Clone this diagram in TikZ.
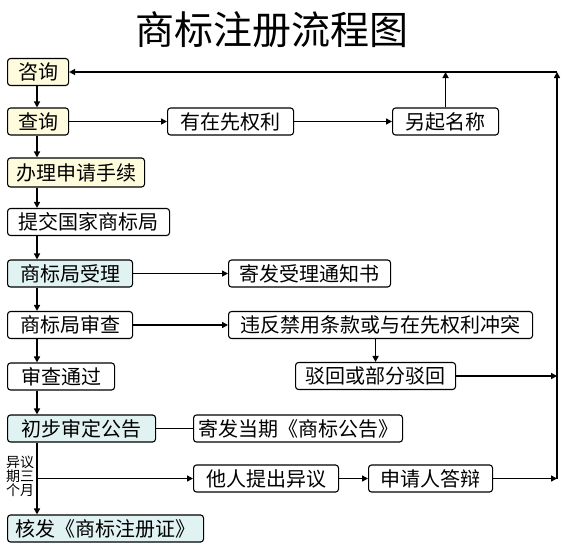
\documentclass[tikz,border=0pt]{standalone}
\usepackage{fontspec}
\setmainfont{Noto Sans CJK SC}
\usetikzlibrary{arrows.meta}
\definecolor{cream}{RGB}{255,252,222}
\definecolor{paleblue}{RGB}{224,242,242}
\tikzset{
  flowbox/.style={
    draw,
    line width=1.1pt,
    rounded corners=3pt,
    anchor=west,
    minimum height=27pt,
    inner sep=0pt,
    font=\fontsize{20}{20}\selectfont
  },
  askbox/.style={flowbox, fill=cream},
  officebox/.style={flowbox, fill=paleblue},
  link/.style={line width=1.5pt, -{Triangle[length=6pt,width=6pt]}},
  plainlink/.style={line width=1.5pt}
}

\begin{document}
\begin{tikzpicture}[x=1pt,y=-1pt]
  \useasboundingbox (0,0) rectangle (567,547);

  \node[font=\fontsize{39}{39}\selectfont] (title) at (272,30) {商标注册流程图};

  \coordinate (spine) at (37,0);
  \coordinate (rtop) at (557,72);

  \node[askbox, minimum width=61pt] (zixun) at (7,72) {咨询};
  \node[askbox, minimum width=61pt] (chaxun) at (7,121.5) {查询};
  \node[askbox, minimum width=137pt, minimum height=29pt] (banli) at (7,172.5) {办理申请手续};
  \node[flowbox, minimum width=162pt] (tijiao) at (7,222) {提交国家商标局};
  \node[officebox, minimum width=125pt] (shouli) at (7,273.5) {商标局受理};
  \node[flowbox, minimum width=125pt] (shencha) at (7,325) {商标局审查};
  \node[flowbox, minimum width=107pt] (tongguo) at (7,376.5) {审查通过};
  \node[officebox, minimum width=148pt] (gonggao) at (7,428.5) {初步审定公告};
  \node[officebox, minimum width=196pt] (hefa) at (7,528.5) {核发《商标注册证》};

  \node[flowbox, minimum width=126pt] (xianquan) at (167,121.5) {有在先权利};
  \node[flowbox, minimum width=106pt] (lingqi) at (392,121.5) {另起名称};
  \node[flowbox, minimum width=162pt] (tongzhi) at (228,273.5) {寄发受理通知书};
  \node[flowbox, minimum width=304pt] (weifan) at (228,325) {违反禁用条款或与在先权利冲突};
  \node[flowbox, minimum width=160pt] (bohui) at (295,376) {驳回或部分驳回};
  \node[flowbox, minimum width=209pt] (jifa) at (193,428.5) {寄发当期《商标公告》};
  \node[flowbox, minimum width=145pt] (yiyi) at (193,478.5) {他人提出异议};
  \node[flowbox, minimum width=124pt] (dabian) at (368,478.5) {申请人答辩};

  \node[align=center, inner sep=0pt, font=\fontsize{14}{14}\selectfont] (qixian) at (20,476) {异议\\期三\\个月};
  \coordinate (fork) at (37,478.5);

  \draw[link] (zixun.south -| spine) -- (chaxun.north -| spine);
  \draw[link] (chaxun.south -| spine) -- (banli.north -| spine);
  \draw[link] (banli.south -| spine) -- (tijiao.north -| spine);
  \draw[link] (tijiao.south -| spine) -- (shouli.north -| spine);
  \draw[link] (shouli.south -| spine) -- (shencha.north -| spine);
  \draw[link] (shencha.south -| spine) -- (tongguo.north -| spine);
  \draw[link] (tongguo.south -| spine) -- (gonggao.north -| spine);
  \draw[link] (gonggao.south -| spine) -- (hefa.north -| spine);
  \draw[link] (fork) -- (yiyi.west);

  \draw[link] (chaxun) -- (xianquan);
  \draw[link] (xianquan) -- (lingqi);
  \draw[link] (lingqi.north) -- (lingqi.north |- rtop);
  \draw[link] (shouli) -- (tongzhi);
  \draw[link] (shencha) -- (weifan);
  \draw[link] (weifan.south -| bohui.north) -- (bohui.north);
  \draw[plainlink] (gonggao) -- (jifa);
  \draw[link] (yiyi) -- (dabian);

  \draw[link] (bohui.east) -- (bohui.east -| rtop);
  \draw[link] (dabian.east) -- (dabian.east -| rtop);
  \draw[link] (dabian.east -| rtop) -- (rtop);
  \draw[link] (rtop) -- (zixun.east);
\end{tikzpicture}
\end{document}
